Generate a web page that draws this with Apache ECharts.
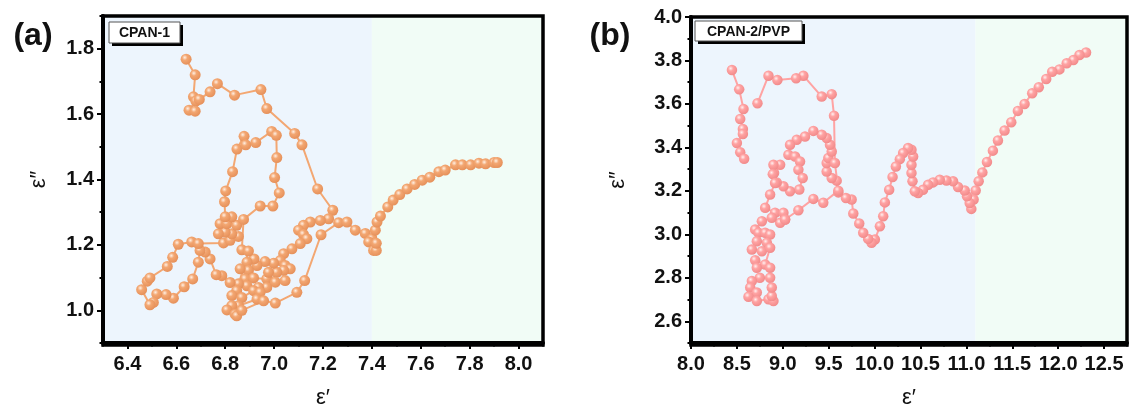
<!DOCTYPE html>
<html><head><meta charset="utf-8">
<script src="https://cdn.jsdelivr.net/npm/echarts@6/dist/echarts.min.js"></script>
<style>html,body{margin:0;padding:0;background:#fff}#c{width:1130px;height:414px}</style>
</head><body><div id="c"></div><script>
// ---------- Panel (a) CPAN-1 ----------
const cpan1Path = [
[6.640,1.768],[6.677,1.720],[6.670,1.653],[6.680,1.640],[6.652,1.612],[6.677,1.609],[6.694,1.645],[6.738,1.668],[6.768,1.693],[6.838,1.658],[6.946,1.675],[6.970,1.617],[7.084,1.541],[7.114,1.506],[7.178,1.371],[7.240,1.306],
[7.223,1.280],[7.189,1.275],[7.148,1.270],[7.120,1.260],[7.100,1.245],[7.120,1.232],[7.134,1.219],[7.107,1.204],[7.073,1.188],[7.039,1.173],
[7.025,1.152],[7.045,1.137],[7.066,1.127],[7.039,1.122],[7.011,1.116],[6.998,1.144],[6.963,1.149],[6.930,1.137],[6.918,1.157],[6.889,1.147],[6.895,1.122],[6.861,1.127],[6.882,1.096],[6.916,1.099],[6.970,1.096],[6.977,1.116],[7.005,1.086],[7.045,1.091],[6.970,1.070],[6.936,1.070],[6.889,1.075],[6.854,1.081],[6.820,1.085],[6.786,1.106],[6.763,1.109],[6.738,1.157],[6.718,1.178],[6.697,1.183],[6.690,1.147],[6.667,1.096],[6.632,1.072],[6.588,1.037],[6.558,1.048],[6.520,1.050],[6.506,1.024],[6.492,1.017],[6.458,1.063],[6.481,1.089],[6.492,1.099],[6.563,1.134],[6.585,1.162],[6.608,1.202],[6.663,1.209],[6.690,1.204],[6.793,1.206],[6.820,1.214],[6.854,1.226],[6.827,1.234],[6.800,1.239],[6.772,1.234],[6.779,1.265],[6.807,1.265],[6.847,1.260],[6.827,1.286],[6.800,1.286],[6.797,1.332],[6.802,1.365],[6.830,1.424],[6.848,1.493],[6.877,1.532],[6.884,1.506],[6.925,1.513],[6.990,1.547],[7.009,1.535],[7.011,1.467],[7.002,1.406],[7.021,1.359],[6.995,1.319],[6.943,1.319],[6.875,1.278],[6.868,1.185],[6.895,1.181],[6.847,1.060],[6.827,1.045],[6.868,1.039],[6.916,1.060],[6.943,1.055],[6.930,1.034],[6.854,1.014],[6.827,1.014],[6.807,1.001],[6.840,0.988],[6.847,0.983],[6.868,1.000],[6.957,1.029],[7.005,1.022],[7.093,1.055],[7.125,1.091],[7.192,1.231],[7.264,1.268],[7.298,1.270],[7.332,1.245],[7.373,1.235],[7.400,1.219],[7.387,1.209],[7.407,1.183],[7.418,1.183],[7.418,1.205],[7.414,1.245],[7.421,1.270],[7.435,1.288],[7.465,1.316],[7.487,1.337],[7.514,1.354],[7.544,1.371],[7.575,1.385],[7.606,1.398],[7.637,1.407],[7.674,1.424],[7.700,1.429],[7.742,1.445],[7.770,1.445],[7.804,1.445],[7.838,1.450],[7.865,1.448],[7.900,1.452],[7.913,1.452]
];
const aXTicks = [6.4,6.6,6.8,7.0,7.2,7.4,7.6,7.8,8.0];
const aXMinor = [6.3,6.5,6.7,6.9,7.1,7.3,7.5,7.7,7.9,8.1];
const aYTicks = [1.0,1.2,1.4,1.6,1.8];
const aYMinor = [0.9,1.1,1.3,1.5,1.7,1.9];
const aXRange = [6.3,8.1], aYRange = [0.9,1.9];
const aRegions = [[6.3,7.4],[7.4,8.1]];

// ---------- Panel (b) CPAN-2/PVP ----------
const cpan2Main = [
[12.304,3.837],[12.232,3.825],[12.166,3.802],[12.093,3.787],[12.014,3.759],[11.935,3.748],[11.870,3.715],[11.789,3.677],[11.717,3.649],[11.634,3.600],[11.561,3.568],[11.489,3.516],[11.416,3.478],[11.344,3.432],[11.289,3.385],[11.224,3.333],[11.174,3.285],[11.134,3.244],[11.101,3.202],[11.079,3.160],[11.054,3.117],[11.036,3.144],[11.007,3.175],[10.982,3.202],[10.909,3.218],[10.855,3.244],[10.783,3.248],[10.710,3.251],[10.637,3.239],[10.583,3.228],[10.528,3.205],[10.474,3.190],[10.438,3.198],[10.413,3.244],[10.402,3.282],[10.402,3.320],[10.420,3.358],[10.402,3.389],[10.365,3.397],[10.311,3.374],[10.275,3.346],[10.232,3.312],[10.196,3.264],[10.159,3.205],[10.112,3.147],[10.094,3.083],[10.058,3.037],[10.003,2.976],[9.967,2.961],[9.930,2.979],[9.876,3.007],[9.833,3.050],[9.768,3.096],[9.750,3.160],[9.688,3.167],[9.605,3.193],[9.587,3.247],[9.533,3.259],[9.478,3.289],[9.478,3.328],[9.496,3.351],[9.533,3.381],[9.514,3.412],[9.478,3.443],[9.424,3.458],[9.333,3.476],[9.242,3.450],[9.152,3.435],[9.079,3.412],[9.061,3.366],[9.134,3.358],[9.188,3.335],[9.170,3.297],[9.217,3.259],[9.180,3.206],[9.079,3.198],[9.007,3.221],[8.934,3.239],[8.905,3.282],[8.971,3.320],[8.898,3.320],[8.891,3.277],[8.916,3.236],[8.862,3.183],[8.808,3.122],[8.916,3.099],[9.007,3.099],[9.025,3.068],[8.971,3.053],[8.880,3.076],[8.772,3.060],[8.699,3.022],[8.735,3.007],[8.808,3.007],[8.862,2.999],[8.826,2.961],[8.717,2.968],[8.663,2.930],[8.772,2.922],[8.862,2.938],[8.808,2.861],[8.699,2.881],[8.717,2.846],[8.862,2.846],[8.862,2.800],[8.750,2.800],[8.663,2.785],[8.645,2.755],[8.717,2.732],[8.626,2.713],[8.717,2.693],[8.844,2.701],[8.898,2.693],[8.880,2.716],[8.880,2.755]
];
const cpan2Arch = [[9.025,3.068],[9.170,3.111],[9.333,3.163],[9.441,3.145],[9.605,3.201],[9.568,3.328],[9.558,3.546],[9.533,3.645],[9.424,3.634],[9.224,3.730],[9.145,3.718],[8.941,3.710],[8.844,3.730],[8.724,3.603]];
const cpan2Top = [[8.446,3.756],[8.525,3.667],[8.572,3.577],[8.536,3.531],[8.565,3.485],[8.565,3.462],[8.500,3.420],[8.536,3.378],[8.579,3.348]];
const bXTicks = [8.0,8.5,9.0,9.5,10.0,10.5,11.0,11.5,12.0,12.5];
const bXMinor = [8.25,8.75,9.25,9.75,10.25,10.75,11.25,11.75,12.25,12.75];
const bYTicks = [2.6,2.8,3.0,3.2,3.4,3.6,3.8,4.0];
const bYMinor = [2.5,2.7,2.9,3.1,3.3,3.5,3.7,3.9];
const bXRange = [8.0,12.75], bYRange = [2.5,4.0];
const bRegions = [[8.0,11.1],[11.1,12.75]];

const FONT = "'Liberation Sans', Arial, sans-serif";
const chart = echarts.init(document.getElementById('c'));
const GA = {left:103, top:16, width:440, height:329};
const GB = {left:691, top:17, width:436, height:328};

function sphere(main, edge, hi){
  return {type:'radial', x:0.38, y:0.35, r:0.7, colorStops:[
    {offset:0, color:hi},{offset:0.35, color:main},{offset:1, color:edge}]};
}
function majorAxis(grid, range, ticks, isX, name, nameGap){
  return {
    type:'value', gridIndex:grid, min:range[0], max:range[1], position: isX?'bottom':'left', z:20,
    splitLine:{show:false},
    axisLine:{show:true, onZero:false, lineStyle:{color:'#000', width:4}},
    axisTick:{show:true, inside:false, length:6, lineStyle:{color:'#000', width:2}, customValues:ticks},
    axisLabel:{customValues:ticks, formatter:v=>Number(v).toFixed(1), color:'#111', fontFamily:FONT, fontWeight:'bold', fontSize:20, margin: isX?11:9},
    name:name, nameLocation:'middle', nameGap:nameGap, nameRotate: isX?0:90,
    nameTextStyle:{fontFamily:FONT, fontSize:22, color:'#111'}
  };
}
function minorAxis(grid, range, ticks, isX){
  return {
    type:'value', gridIndex:grid, min:range[0], max:range[1], position: isX?'bottom':'left', offset:0, z:20,
    splitLine:{show:false}, axisLine:{show:false, onZero:false},
    axisTick:{show:true, inside:false, length:3.5, lineStyle:{color:'#000', width:2}, customValues:ticks},
    axisLabel:{show:false}
  };
}
function regionArea(regions){
  const cols = ['#edf5fd','#f1fcf6'];
  return {silent:true, data: regions.map((r,i)=>[{xAxis:r[0], itemStyle:{color:cols[i]}},{xAxis:r[1]}])};
}
function lineSeries(data, xi, yi, main, edge, hi, size, extra){
  return Object.assign({
    type:'line', data:data, xAxisIndex:xi, yAxisIndex:yi,
    symbol:'circle', symbolSize:size, showSymbol:true,
    lineStyle:{color:main, width:2},
    itemStyle:{color:sphere(main, edge, hi), borderWidth:0},
    animation:false, z:3
  }, extra||{});
}
const aMain='#f3a772', aEdge='#e48e58', aHi='#fff0e4';
const bMain='#ffa3a3', bEdge='#f08888', bHi='#fff0f0';

function legendBox(x, y, w, h, text){
  return {type:'group', z:50, children:[
    {type:'rect', z:50, shape:{x:x+3, y:y+3, width:w, height:h}, style:{fill:'#000'}},
    {type:'rect', z:51, shape:{x:x, y:y, width:w, height:h}, style:{fill:'#fff', stroke:'#555', lineWidth:1}},
    {type:'text', z:52, style:{text:text, x:x+w/2, y:y+h/2+1, align:'center', verticalAlign:'middle', font:"bold 14px 'Liberation Sans', Arial, sans-serif", fill:'#111'}}
  ]};
}
function frame(g){
  return {type:'rect', z:40, silent:true, shape:{x:g.left, y:g.top, width:g.width, height:g.height}, style:{fill:null, stroke:'#000', lineWidth:3.5}};
}

chart.setOption({
  backgroundColor:'#fff',
  animation:false,
  grid:[
    Object.assign({show:false}, GA),
    Object.assign({show:false}, GB)
  ],
  xAxis:[
    majorAxis(0, aXRange, aXTicks, true, 'ε′', 44),
    minorAxis(0, aXRange, aXMinor, true),
    majorAxis(1, bXRange, bXTicks, true, 'ε′', 44),
    minorAxis(1, bXRange, bXMinor, true)
  ],
  yAxis:[
    majorAxis(0, aYRange, aYTicks, false, 'ε″', 53),
    minorAxis(0, aYRange, aYMinor, false),
    majorAxis(1, bYRange, bYTicks, false, 'ε″', 62),
    minorAxis(1, bYRange, bYMinor, false)
  ],
  series:[
    lineSeries(cpan1Path, 0, 0, aMain, aEdge, aHi, 11, {markArea: regionArea(aRegions)}),
    lineSeries(cpan2Main, 2, 2, bMain, bEdge, bHi, 10.5, {markArea: regionArea(bRegions)}),
    lineSeries(cpan2Arch, 2, 2, bMain, bEdge, bHi, 10.5),
    lineSeries(cpan2Top, 2, 2, bMain, bEdge, bHi, 10.5)
  ],
  graphic:[
    frame(GA), frame(GB),
    {type:'text', style:{text:'(a)', x:33, y:36, align:'center', verticalAlign:'middle', font:"bold 32px 'Liberation Sans', Arial, sans-serif", fill:'#111'}},
    {type:'text', style:{text:'(b)', x:610, y:36, align:'center', verticalAlign:'middle', font:"bold 32px 'Liberation Sans', Arial, sans-serif", fill:'#111'}},
    legendBox(109, 22, 71, 21, 'CPAN-1'),
    legendBox(695, 21, 107, 20, 'CPAN-2/PVP')
  ]
});
</script></body></html>
